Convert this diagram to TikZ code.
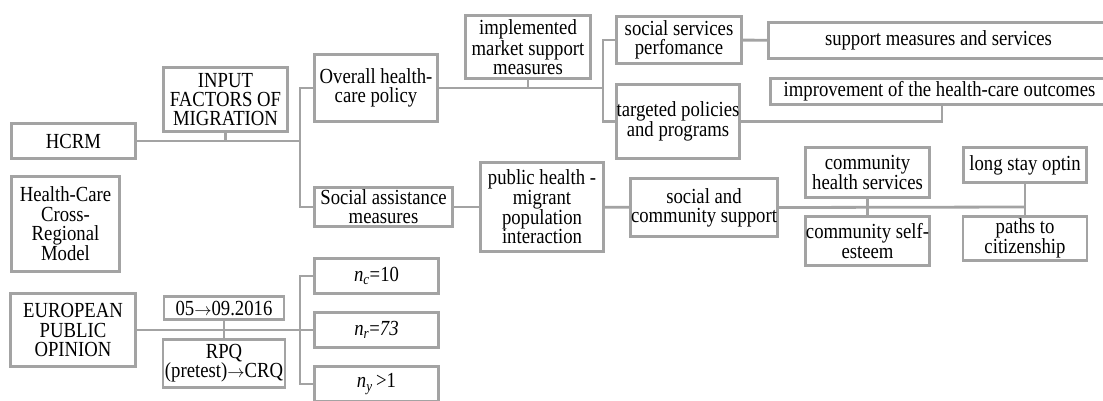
\documentclass[tikz,border=0pt]{standalone}
\usepackage{fontspec}
\setmainfont{Liberation Serif}[FakeStretch=0.87]
\usepackage{tikz}
\definecolor{linegray}{RGB}{163,163,163}
\newcommand{\toarrow}{{\fontsize{17}{17}\selectfont$\rightarrow$}}

\begin{document}
\begin{tikzpicture}[x=1pt,y=-1pt]
\tikzset{
  box/.style={draw=linegray, line width=2.8pt, align=center, inner sep=0pt,
    font=\fontsize{21.5}{19.2}\selectfont},
  link/.style={draw=linegray, line width=2.8pt}
}
\useasboundingbox (0,0) rectangle (1103,400);
\node [box, minimum width=124pt, minimum height=35pt] (hcrm) at (73.5,141) {HCRM};
\node [box, minimum width=124pt, minimum height=64pt] (input) at (225.5,99.5) {INPUT\\FACTORS OF\\MIGRATION};
\node [box, minimum width=108pt, minimum height=95pt] (model) at (65.5,224) {Health-Care\\Cross-\\Regional\\Model};
\node [box, minimum width=125pt, minimum height=73pt] (epo) at (73,330) {EUROPEAN\\PUBLIC\\OPINION};
\node [box, minimum width=120pt, minimum height=23pt] (date) at (224,308) {05\toarrow09.2016};
\node [box, minimum width=122pt, minimum height=48pt] (rpq) at (224,363.5) {RPQ\\(pretest)\toarrow CRQ};
\node [box, minimum width=123pt, minimum height=67pt] (overall) at (376,88) {Overall health-\\care policy};
\node [box, minimum width=138pt, minimum height=39pt] (soc) at (383.5,207) {Social assistance\\measures};
\node [box, minimum width=124pt, minimum height=35pt] (nc) at (376.5,276) {\textit{n}\textsubscript{\textit{c}}=10};
\node [box, minimum width=124pt, minimum height=35pt] (nr) at (376.5,330) {\textit{n}\textsubscript{\textit{r}}=\textit{73}};
\node [box, minimum width=124pt, minimum height=35pt] (ny) at (376.5,384) {\textit{n}\textsubscript{\textit{y}}\,>1};
\node [box, minimum width=125pt, minimum height=63pt] (impl) at (528,47) {implemented\\market support\\measures};
\node [box, minimum width=125pt, minimum height=47pt] (ssp) at (679,40) {social services\\perfomance};
\node [box, minimum width=123pt, minimum height=74pt] (tpp) at (678,121.5) {targeted policies\\and programs};
\node [box, minimum width=340pt, minimum height=36pt] (sms) at (938.5,40.5) {support measures and services};
\node [box, minimum width=338pt, minimum height=26pt] (imp) at (939.5,91.5) {improvement of the health-care outcomes};
\node [box, minimum width=123pt, minimum height=89pt] (phm) at (542,207) {public health -\\migrant\\population\\interaction};
\node [box, minimum width=147pt, minimum height=58pt] (sacs) at (704,207.5) {social and\\community support};
\node [box, minimum width=124pt, minimum height=50pt] (chs) at (867.5,172.5) {community\\health services};
\node [box, minimum width=124pt, minimum height=49pt] (cse) at (867.5,241) {community self-\\esteem};
\node [box, minimum width=123pt, minimum height=35pt] (lso) at (1025,165) {long stay optin};
\node [box, minimum width=124pt, minimum height=44pt] (ptc) at (1025,238.5) {paths to\\citizenship};
\coordinate (hcrmjoin) at (300,141);
\coordinate (epojoin) at (300,330);
\coordinate (policyjoin) at (603,88);
\coordinate (supportjoin) at (1025,207);
\draw [link] (hcrm.east) -- (hcrmjoin);
\draw [link] (input.south) -- (input.south |- hcrmjoin);
\draw [link] (overall.west) -| (hcrmjoin) |- (soc.west);
\draw [link] (epo.east) -- (epojoin) -- (nr.west);
\draw [link] (date.south) -- (rpq.north);
\draw [link] (nc.west) -| (epojoin) |- (ny.west);
\draw [link] (overall.east) -- (policyjoin);
\draw [link] (impl.south) -- (impl.south |- policyjoin);
\draw [link] (ssp.west) -| (policyjoin) |- (tpp.west);
\draw [link] (ssp) -- (sms);
\draw [link] (tpp.east) -| ([xshift=2.5pt]imp.south);
\draw [link] (soc) -- (phm);
\draw [link] (phm) -- (sacs);
\draw [link] (sacs.east) -- (supportjoin);
\draw [link] (chs) -- (cse);
\draw [link] (lso) -- (ptc);
\end{tikzpicture}
\end{document}
